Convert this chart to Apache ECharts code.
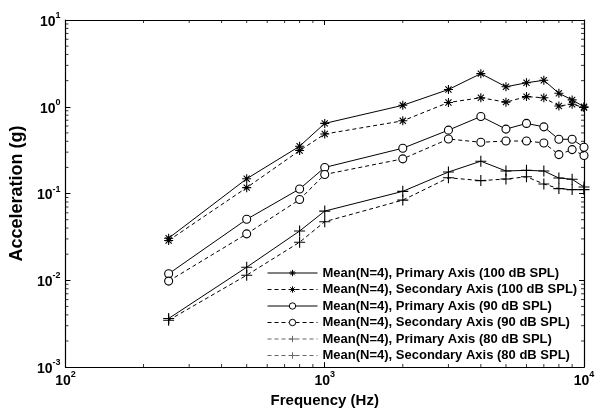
<!DOCTYPE html>
<html>
<head>
<meta charset="utf-8">
<script src="https://cdn.jsdelivr.net/npm/echarts@6/dist/echarts.min.js"></script>
<style>html,body{margin:0;padding:0;background:#fff}#c{width:604px;height:413px}</style>
</head>
<body>
<div id="c"></div>
<script>
// ---- data ----
const freq = [250, 500, 800, 1000, 2000, 3000, 4000, 5000, 6000, 7000, 8000, 9000, 10000];
const primary100   = [0.0306, 0.148, 0.351, 0.643, 1.04, 1.58, 2.41, 1.70, 1.89, 2.02, 1.43, 1.20, 1.00];
const secondary100 = [0.0288, 0.117, 0.313, 0.485, 0.689, 1.12, 1.27, 1.13, 1.31, 1.27, 1.02, 1.07, 0.98];
const primary90    = [0.0119, 0.0505, 0.113, 0.200, 0.333, 0.538, 0.773, 0.553, 0.643, 0.587, 0.422, 0.422, 0.342];
const secondary90  = [0.0098, 0.0343, 0.0853, 0.166, 0.251, 0.425, 0.390, 0.403, 0.403, 0.383, 0.281, 0.321, 0.274];
const primary80    = [0.00363, 0.01416, 0.0370, 0.0628, 0.106, 0.177, 0.236, 0.182, 0.185, 0.182, 0.151, 0.146, 0.119];
const secondary80  = [0.00347, 0.01146, 0.0275, 0.0474, 0.084, 0.152, 0.141, 0.147, 0.156, 0.129, 0.114, 0.111, 0.111];
const seriesNames = [
  'Mean(N=4), Primary Axis (100 dB SPL)',
  'Mean(N=4), Secondary Axis (100 dB SPL)',
  'Mean(N=4), Primary Axis (90 dB SPL)',
  'Mean(N=4), Secondary Axis (90 dB SPL)',
  'Mean(N=4), Primary Axis (80 dB SPL)',
  'Mean(N=4), Secondary Axis (80 dB SPL)'
];
const xMin = 100, xMax = 10000, yMin = 0.001, yMax = 10;
const xDecades = [100, 1000];
const yDecades = [0.001, 0.01, 0.1, 1];
const minorMult = [2, 3, 4, 5, 6, 7, 8, 9];

// ---- styles ----
const FONT = 'Liberation Sans, Arial, sans-serif';
const STAR = 'path://M5,0L5,10M0,5L10,5M1.6,1.6L8.4,8.4M1.6,8.4L8.4,1.6';
const PLUS = 'path://M5,0L5,10M0,5L10,5';
const DASH = [4, 3];

function pairs(vals) { return freq.map((f, i) => [f, vals[i]]); }

function mkLine(name, vals, symbol, size, dashed, fillWhite) {
  return {
    name: name, type: 'line', data: pairs(vals),
    symbol: symbol, symbolSize: size, showSymbol: true, clip: false,
    lineStyle: { color: '#000', width: 1, type: dashed ? DASH : 'solid' },
    itemStyle: { color: fillWhite ? '#fff' : '#000', borderColor: '#000', borderWidth: 1.1 },
    emphasis: { disabled: true }, z: 3
  };
}

const xMinor = [];
xDecades.forEach(d => minorMult.forEach(k => xMinor.push(d * k)));
const yMinor = [];
yDecades.forEach(d => minorMult.forEach(k => yMinor.push(+(d * k).toPrecision(3))));

function tickSeries(name, data, size, offset) {
  return {
    name: name, type: 'scatter', data: data, symbol: 'rect', symbolSize: size,
    symbolOffset: offset, clip: false, silent: true, z: 5,
    itemStyle: { color: '#000' }, emphasis: { disabled: true }
  };
}

const supRich = {
  b: { fontSize: 14, fontWeight: 'bold', fontFamily: FONT, color: '#000', lineHeight: 18, verticalAlign: 'bottom' },
  s: { fontSize: 9, fontWeight: 'bold', fontFamily: FONT, color: '#000', lineHeight: 10, verticalAlign: 'top' }
};
function supFmt(v) { return '{b|10}{s|' + Math.round(Math.log10(v)) + '}'; }

const axisLine = { show: true, lineStyle: { color: '#000', width: 1.2 } };
const axisTick = { show: true, inside: true, length: 5, lineStyle: { color: '#000', width: 1 } };
const grayLeg = { lineStyle: { color: '#666', type: DASH, width: 1 }, itemStyle: { color: '#666', borderColor: '#666', borderWidth: 1 } };

const option = {
  animation: false,
  backgroundColor: '#fff',
  grid: { left: 65, right: 20, top: 20, bottom: 43, containLabel: false },
  xAxis: [
    {
      type: 'log', logBase: 10, min: xMin, max: xMax, position: 'bottom',
      axisLine: axisLine, axisTick: axisTick, splitLine: { show: false },
      axisLabel: { formatter: supFmt, rich: supRich, margin: 3, showMinLabel: true, showMaxLabel: true },
      name: 'Frequency (Hz)', nameLocation: 'middle', nameGap: 15,
      nameTextStyle: { fontSize: 15, fontWeight: 'bold', fontFamily: FONT, color: '#000' }
    },
    {
      type: 'log', logBase: 10, min: xMin, max: xMax, position: 'top',
      axisLine: axisLine, axisTick: axisTick, splitLine: { show: false }, axisLabel: { show: false }
    }
  ],
  yAxis: [
    {
      type: 'log', logBase: 10, min: yMin, max: yMax, position: 'left',
      axisLine: axisLine, axisTick: axisTick, splitLine: { show: false },
      axisLabel: { formatter: supFmt, rich: supRich, margin: 5, showMinLabel: true, showMaxLabel: true },
      name: 'Acceleration (g)', nameLocation: 'middle', nameGap: 31,
      nameTextStyle: { fontSize: 18, fontWeight: 'bold', fontFamily: FONT, color: '#000' }
    },
    {
      type: 'log', logBase: 10, min: yMin, max: yMax, position: 'right',
      axisLine: axisLine, axisTick: axisTick, splitLine: { show: false }, axisLabel: { show: false }
    }
  ],
  legend: {
    orient: 'vertical', left: 267, top: 266, padding: 0,
    itemWidth: 50, itemHeight: 8, itemGap: 2.5,
    textStyle: { fontSize: 13, fontWeight: 'bold', fontFamily: FONT, color: '#000', lineHeight: 14 },
    lineStyle: { width: 1 },
    itemStyle: { borderWidth: 1 },
    selectedMode: false,
    data: [
      { name: seriesNames[0] },
      { name: seriesNames[1] },
      { name: seriesNames[2] },
      { name: seriesNames[3] },
      Object.assign({ name: seriesNames[4] }, grayLeg),
      Object.assign({ name: seriesNames[5] }, grayLeg)
    ]
  },
  series: [
    mkLine(seriesNames[0], primary100, STAR, 9, false, false),
    mkLine(seriesNames[1], secondary100, STAR, 9, true, false),
    mkLine(seriesNames[2], primary90, 'circle', 8, false, true),
    mkLine(seriesNames[3], secondary90, 'circle', 8, true, true),
    mkLine(seriesNames[4], primary80, PLUS, 11, false, false),
    mkLine(seriesNames[5], secondary80, PLUS, 11, true, false),
    tickSeries('tb', xMinor.map(v => [v, yMin]), [1, 3], [0, -1.5]),
    tickSeries('tt', xMinor.map(v => [v, yMax]), [1, 3], [0, 1.5]),
    tickSeries('tl', yMinor.map(v => [xMin, v]), [3, 1], [1.5, 0]),
    tickSeries('tr', yMinor.map(v => [xMax, v]), [3, 1], [-1.5, 0])
  ]
};

const chart = echarts.init(document.getElementById('c'), null, { renderer: 'canvas' });
chart.setOption(option);
</script>
</body>
</html>
